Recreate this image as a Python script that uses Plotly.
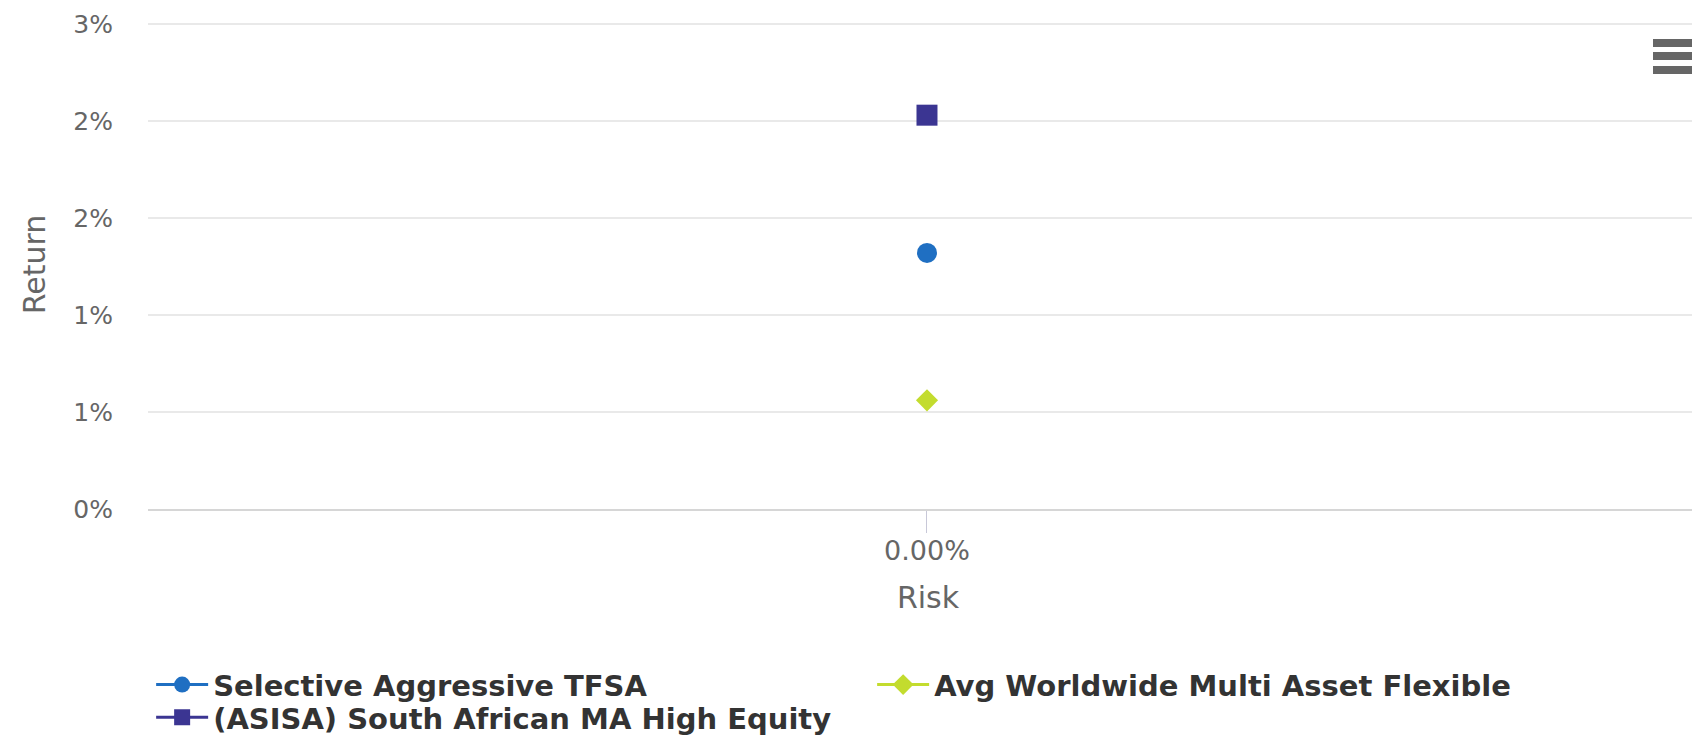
import plotly.graph_objects as go

# ---- data ----
series_names = ["Selective Aggressive TFSA", "Avg Worldwide Multi Asset Flexible",
                "(ASISA) South African MA High Equity"]
risk_values = [0.0, 0.0, 0.0]
return_values = [1.32, 0.56, 2.03]
series_colors = ["#1f6fc2", "#c3dc2e", "#3b3592"]
series_symbols = ["circle", "diamond", "square"]
series_sizes = [20, 17, 21]
legend_rows = ["legend", "legend", "legend2"]

y_tickvals = [0, 0.5, 1.0, 1.5, 2.0, 2.5]
y_ticktext = ["0%", "1%", "1%", "2%", "2%", "3%"]
x_tickvals = [0.0]
x_ticktext = ["0.00%"]

FONT = "DejaVu Sans"

fig = go.Figure()
for name, xv, yv, col, sym, sz, lg in zip(series_names, risk_values, return_values,
                                         series_colors, series_symbols, series_sizes,
                                         legend_rows):
    fig.add_trace(go.Scatter(
        x=[xv], y=[yv], name=name, mode="lines+markers", legend=lg,
        line=dict(color=col, width=3),
        marker=dict(color=col, symbol=sym, size=sz, line=dict(width=0)),
    ))

legend_font = dict(family=FONT, size=29, color="#333333", weight="bold")
common_legend = dict(
    orientation="h", xref="container", yref="container",
    xanchor="left", yanchor="top",
    font=legend_font, bgcolor="rgba(0,0,0,0)", itemwidth=52,
    entrywidth=654, entrywidthmode="pixels",
)

fig.update_layout(
    template="none",
    width=1700, height=743,
    margin=dict(l=140, r=0, t=12, b=242, autoexpand=False),
    paper_bgcolor="white", plot_bgcolor="white",
    font=dict(family=FONT, color="#666666", size=25),
    showlegend=True,
    legend=dict(common_legend, x=0.0842, y=0.1235),
    legend2=dict(common_legend, x=0.0842, y=0.0795),
    xaxis=dict(
        range=[-1, 1.0026], tickvals=x_tickvals, ticktext=x_ticktext,
        showgrid=False, zeroline=False, showline=True,
        linecolor="#d6d6d6", linewidth=2,
        ticks="outside", ticklen=22, tickwidth=1, tickcolor="#c8c8d8",
        ticklabelstandoff=-5,
        tickfont=dict(family=FONT, size=27, color="#666666"),
        title=dict(text="Risk", font=dict(family=FONT, size=30, color="#666666"), standoff=22),
        automargin=False, fixedrange=True,
    ),
    yaxis=dict(
        range=[0, 2.5206], tickvals=y_tickvals, ticktext=y_ticktext,
        showgrid=True, gridcolor="#e9e9e9", gridwidth=2,
        zeroline=False, showline=False, ticks="",
        ticklabelstandoff=34,
        tickfont=dict(family=FONT, size=25, color="#666666"),
        title=dict(text="Return", font=dict(family=FONT, size=30, color="#666666"), standoff=18),
        automargin=False, fixedrange=True,
    ),
)

# export (hamburger) button
for top, bottom in [(-19, -27), (-32, -40), (-46, -54)]:
    fig.add_shape(type="rect", xref="paper", yref="paper",
                  xsizemode="pixel", ysizemode="pixel", xanchor=1, yanchor=1,
                  x0=-55, x1=-9, y0=bottom, y1=top,
                  fillcolor="#666666", line=dict(width=0), layer="above")

fig.write_html("out.html", config={"displayModeBar": False})
